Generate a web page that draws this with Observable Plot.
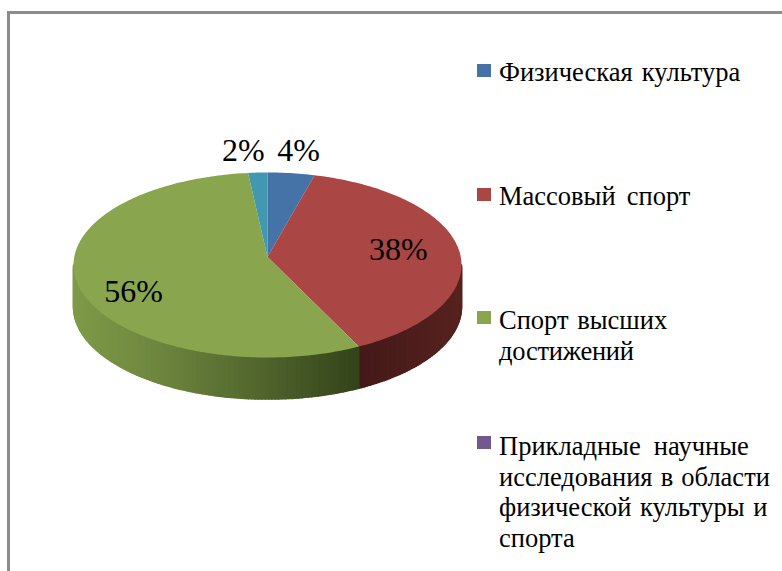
<!DOCTYPE html>
<html lang="ru">
<head>
<meta charset="utf-8">
<script src="https://cdn.jsdelivr.net/npm/d3@7"></script>
<script src="https://cdn.jsdelivr.net/npm/@observablehq/plot@0.6"></script>
<style>
html,body{margin:0;padding:0;background:#fff;}
#page{position:relative;width:782px;height:571px;overflow:hidden;font-family:"Liberation Serif","Times New Roman",serif;color:#000;}
#frame{position:absolute;left:7px;top:11px;right:-10px;bottom:-10px;border-left:3px solid #8c8c8c;border-top:3px solid #8c8c8c;}
#chart{position:absolute;left:0;top:0;}
.lg{position:absolute;left:499px;font-size:26.5px;line-height:30.5px;}
.lg span{display:block;white-space:nowrap;}
.sw{position:absolute;left:477px;width:14px;height:13px;}
</style>
</head>
<body>
<div id="page"><div id="frame"></div><div id="chart"></div><div id="legend"></div></div>
<script>
const shares = [3.9, 38.3, 56.2, 1.6];
const sliceColors = ["#4572a7","#aa4643","#89a54e","#4198af"];
const legendColors = ["#4572a7","#aa4643","#89a54e","#71588f"];
const legendLines = [
  ["Физическая культура"],
  ["Массовый спорт"],
  ["Спорт высших","достижений"],
  ["Прикладные научные","исследования в области","физической культуры и","спорта"]
];
const legendTops = [57, 181, 305, 431];
const swatchTops = [64, 188, 311, 436];
const wordSpacing = [["2.5px"],["4.5px"],["2px","0"],["6.5px","1.5px","2px","0"]];
const letterSpacing = [["0"],["0"],["0","-0.25px"],["0","0","0","0"]];
const labelPlaces = [[0.16,-1.24],[0.675,-0.163],[-0.69,0.29],[-0.124,-1.24]];

const total = d3.sum(shares);
const depth = 0.45, apexY = -0.087;
const turn = a => 2*Math.PI*a;
let acc = 0;
const slices = shares.map((v,i)=>{const s={i,start:acc/total,end:(acc+v)/total};acc+=v;return s;});
const px = a => Math.sin(turn(a)), py = a => -Math.cos(turn(a));

// top face polygons
const topPts = [];
for (const s of slices) {
  topPts.push({x:0,y:apexY,id:s.i,c:sliceColors[s.i]});
  const n = Math.max(4,Math.ceil((s.end-s.start)*360));
  d3.range(n+1).forEach(k=>{
    const a = s.start+(s.end-s.start)*k/n;
    topPts.push({x:px(a),y:py(a),id:s.i,c:sliceColors[s.i]});
  });
}
// side wall strips, shaded by horizontal position
const greenShade = d3.scaleLinear().domain([-1,-0.6,-0.1,0.47]).range(["#7f9a48","#6f8840","#55692f","#33431a"]).interpolate(d3.interpolateRgb);
const redShade = d3.scaleLinear().domain([0.47,1]).range(["#441a18","#57221f"]).interpolate(d3.interpolateRgb);
const sidePts = [];
const step = 1/360;
slices.forEach(s=>{
  const from = Math.max(s.start,0.25), to = Math.min(s.end,0.75);
  if (to<=from) return;
  const n = Math.ceil((to-from)/step);
  d3.range(n).forEach(k=>{
    const a0 = from+(to-from)*k/n, a1 = from+(to-from)*(k+1)/n;
    const mx = px((a0+a1)/2);
    const c = s.i===2 ? greenShade(mx) : redShade(mx);
    const id = s.i+"-"+k;
    [[a0,0],[a1,0],[a1,depth],[a0,depth]].forEach(([a,d])=>sidePts.push({x:px(a),y:py(a)+d,id,c}));
  });
});
const labels = shares.map((v,i)=>({x:labelPlaces[i][0],y:labelPlaces[i][1],t:Math.round(v)+"%"}));

const plot = Plot.plot({
  width:782,height:571,margin:0,
  x:{domain:[-1,1],range:[73,461],axis:null},
  y:{domain:[-1,1],range:[172,357],axis:null},
  color:{type:"identity"},
  marks:[
    Plot.line(sidePts,{x:"x",y:"y",z:"id",fill:"c",stroke:"c",strokeWidth:1.5,curve:"linear-closed"}),
    Plot.line(topPts,{x:"x",y:"y",z:"id",fill:"c",stroke:"none",curve:"linear-closed"}),
    Plot.text(labels,{x:"x",y:"y",text:"t",fontSize:32,fontFamily:"Liberation Serif",fill:"#000"})
  ]
});
document.getElementById("chart").append(plot);

const lg = document.getElementById("legend");
legendLines.forEach((lines,i)=>{
  const sw = document.createElement("div");
  sw.className="sw"; sw.style.background=legendColors[i]; sw.style.top=swatchTops[i]+"px";
  lg.append(sw);
  const d = document.createElement("div");
  d.className="lg"; d.style.top=legendTops[i]+"px";
  lines.forEach((t,j)=>{
    const s=document.createElement("span");
    s.textContent=t;
    s.style.wordSpacing=wordSpacing[i][j];
    s.style.letterSpacing=letterSpacing[i][j];
    d.append(s);
  });
  lg.append(d);
});
</script>
</body>
</html>
